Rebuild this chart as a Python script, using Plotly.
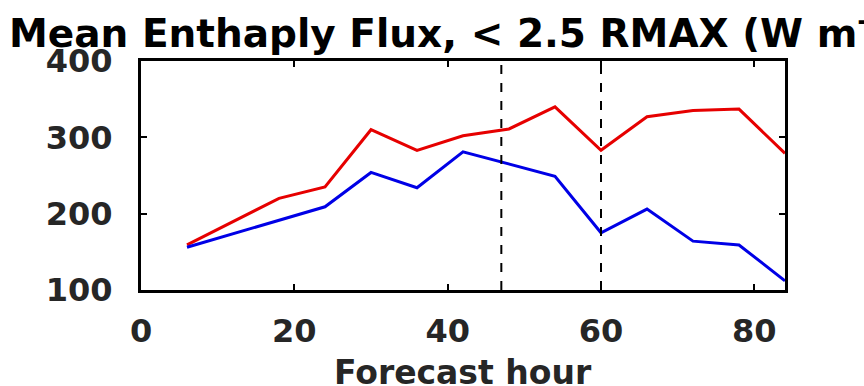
import plotly.graph_objects as go

hours = [6, 18, 24, 30, 36, 42, 48, 54, 60, 66, 72, 78, 84]
red_vals = [159, 220, 235, 310, 283, 302, 311, 340, 283, 327, 335, 337, 279]
blue_vals = [156, 191, 209, 254, 234, 281, 265, 249, 175, 206, 164, 159, 112]
vlines = [47, 60]
x_ticks = [0, 20, 40, 60, 80]
y_ticks = [100, 200, 300, 400]
title_text = "Mean Enthaply Flux, < 2.5 RMAX (W m<sup>-2</sup>)"
x_title = "Forecast hour"

FONT = "DejaVu Sans"
TXT = "#262626"
PLOT_H = 386 - 61 - 96

fig = go.Figure()
fig.add_trace(go.Scatter(x=hours, y=red_vals, mode="lines",
                         line=dict(color="#e60000", width=3), showlegend=False))
fig.add_trace(go.Scatter(x=hours, y=blue_vals, mode="lines",
                         line=dict(color="#0000e6", width=3), showlegend=False))

for v in vlines:
    fig.add_shape(type="line", x0=v, x1=v, xref="x", y0=0, y1=1, yref="paper",
                  line=dict(color="black", width=2, dash="dash"), layer="above")

fig.add_annotation(text="<b>" + x_title + "</b>", xref="paper", yref="paper",
                   x=0.5, y=-61 / PLOT_H, xanchor="center", yanchor="top",
                   showarrow=False, font=dict(family=FONT, size=33, color=TXT))

fig.update_layout(
    width=864, height=386,
    margin=dict(l=141, r=79, t=61, b=96, autoexpand=False),
    paper_bgcolor="white", plot_bgcolor="white",
    font=dict(family=FONT, color=TXT),
    title=dict(text="<b>" + title_text + "</b>", xref="container", yref="container",
               x=9 / 864, xanchor="left", y=1 - 33 / 386, yanchor="middle",
               pad=dict(l=0, r=0, t=0, b=0),
               font=dict(family=FONT, size=39, color="black")),
)
fig.update_xaxes(range=[0, 84], tickvals=x_ticks, ticktext=[f"<b>{t}</b>" for t in x_ticks],
                 showgrid=False, zeroline=False,
                 showline=True, linecolor="black", linewidth=3, mirror="ticks",
                 ticks="inside", ticklen=6, tickwidth=2, tickcolor="black",
                 tickfont=dict(family=FONT, size=32, color=TXT), ticklabelstandoff=11)
fig.update_yaxes(range=[100, 400], tickvals=y_ticks, ticktext=[f"<b>{t}</b>" for t in y_ticks],
                 showgrid=False, zeroline=False,
                 showline=True, linecolor="black", linewidth=3, mirror="ticks",
                 ticks="inside", ticklen=6, tickwidth=2, tickcolor="black",
                 tickfont=dict(family=FONT, size=32, color=TXT), ticklabelstandoff=19)

fig.write_html("out.html", config={"displayModeBar": False},
               post_script="document.body.style.margin='0px';")
